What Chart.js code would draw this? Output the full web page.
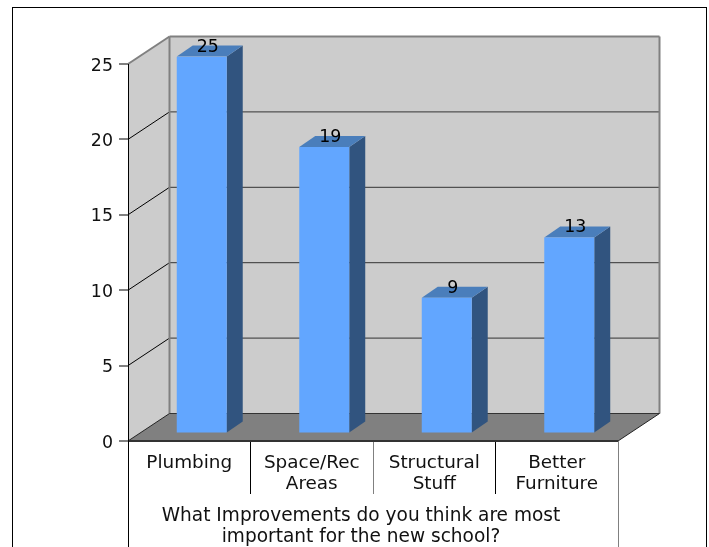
<!DOCTYPE html>
<html>
<head>
<meta charset="utf-8">
<style>
  html, body { margin: 0; padding: 0; background: #fff; overflow: hidden; }
  #wrap { width: 709px; height: 547px; position: relative; }
</style>
</head>
<body>
<div id="wrap"><canvas id="overview"></canvas></div>
<script src="https://cdn.jsdelivr.net/npm/chart.js@4/dist/chart.umd.js"></script>
<script>
const categories = ["Plumbing", ["Space/Rec", "Areas"], ["Structural", "Stuff"], ["Better", "Furniture"]];
const votes = [25, 19, 9, 13];
const axisTitle = ["What Improvements do you think are most", "important for the new school?"];
const fontName = "'DejaVu Sans', Verdana, sans-serif";
const textSize = 18.4;
const numberSize = 17.4;

// depth of the fake 3D box, and how far the bars stand out from the back
const wallX = 41.5, wallY = 27.5;
const barShiftX = 12.5, barShiftY = -7.5;
const sideX = 16, sideY = -11;

function poly(ctx, pts, fill) {
    ctx.beginPath();
    ctx.moveTo(pts[0][0], pts[0][1]);
    for (const p of pts.slice(1)) ctx.lineTo(p[0], p[1]);
    ctx.closePath();
    ctx.fillStyle = fill;
    ctx.fill();
}
function line(ctx, x1, y1, x2, y2, colour, width) {
    ctx.beginPath();
    ctx.moveTo(x1, y1);
    ctx.lineTo(x2, y2);
    ctx.strokeStyle = colour;
    ctx.lineWidth = width;
    ctx.stroke();
}

const box3d = {
    id: 'box3d',
    beforeDatasetsDraw(chart) {
        const ctx = chart.ctx, y = chart.scales.y, a = chart.chartArea;
        const l = a.left, r = a.right, t = a.top, b = a.bottom;
        ctx.save();
        // outer frame
        ctx.strokeStyle = '#000';
        ctx.lineWidth = 1;
        ctx.strokeRect(12.5, 7.5, 694, 600);
        // walls and floor
        poly(ctx, [[l, t], [l + wallX, t - wallY], [l + wallX, b - wallY], [l, b]], '#cccccc');
        poly(ctx, [[l + wallX, t - wallY], [r + wallX, t - wallY], [r + wallX, b - wallY], [l + wallX, b - wallY]], '#cccccc');
        poly(ctx, [[l, b], [l + wallX, b - wallY], [r + wallX, b - wallY], [r, b]], '#808080');
        // gridlines run along the side wall and the back wall
        for (const tick of y.ticks) {
            if (tick.value === 0 || tick.value === 25) continue;
            const py = y.getPixelForValue(tick.value);
            line(ctx, l, py, l + wallX, py - wallY, '#000', 1);
            line(ctx, l + wallX, py - wallY, r + wallX, py - wallY, '#333', 1);
        }
        line(ctx, l, t, l + wallX, t - wallY, '#808080', 2);
        line(ctx, l + wallX, t - wallY, r + wallX, t - wallY, '#808080', 2);
        line(ctx, l + wallX, t - wallY, l + wallX, b - wallY, '#808080', 2);
        line(ctx, r + wallX, t - wallY, r + wallX, b - wallY, '#808080', 2);
        line(ctx, l + wallX, b - wallY, r + wallX, b - wallY, '#333', 1);
        line(ctx, r, b, r + wallX, b - wallY, '#222', 1);
        line(ctx, l, b, l + wallX, b - wallY, '#222', 1);
        line(ctx, l, b, r, b, '#333', 2);
        line(ctx, l + 0.5, t, l + 0.5, 547, '#000', 1);
        line(ctx, r + 0.5, b, r + 0.5, 547, '#808080', 1);
        // side and top of each bar
        for (const bar of chart.getDatasetMeta(0).data) {
            const x2 = bar.x + bar.width / 2 + barShiftX, x1 = x2 - bar.width;
            const top = bar.y + barShiftY, bottom = bar.base + barShiftY;
            poly(ctx, [[x2, top], [x2 + sideX, top + sideY], [x2 + sideX, bottom + sideY], [x2, bottom]], '#31547f');
            poly(ctx, [[x1, top], [x1 + sideX, top + sideY], [x2 + sideX, top + sideY], [x2, top]], '#4a7ebb');
        }
        ctx.restore();
        ctx.save();
        ctx.translate(barShiftX, barShiftY);
    },
    afterDatasetsDraw(chart) {
        const ctx = chart.ctx;
        ctx.restore();
        ctx.save();
        ctx.fillStyle = '#000';
        ctx.font = numberSize + 'px ' + fontName;
        ctx.textAlign = 'center';
        ctx.textBaseline = 'alphabetic';
        chart.getDatasetMeta(0).data.forEach((bar, i) => {
            ctx.fillText(votes[i], bar.x + barShiftX + 6, bar.y + barShiftY - 5);
        });
        ctx.fillStyle = '#111';
        ctx.font = '18.55px ' + fontName;
        ctx.fillText(axisTitle[0], 361, 521);
        ctx.fillText(axisTitle[1], 361, 541.5);
        ctx.restore();
    }
};

new Chart(document.getElementById('overview').getContext('2d'), {
    type: 'bar',
    data: {
        labels: categories,
        datasets: [{
            data: votes,
            backgroundColor: '#62a6ff',
            borderWidth: 0,
            barPercentage: 0.408,
            categoryPercentage: 1
        }]
    },
    plugins: [box3d],
    options: {
        responsive: true,
        maintainAspectRatio: false,
        animation: false,
        layout: { padding: { top: 64, right: 91, bottom: 0, left: 0 } },
        plugins: { legend: { display: false }, tooltip: { enabled: false } },
        scales: {
            x: {
                afterFit(scale) { scale.height = 106; },
                border: { display: false },
                grid: {
                    drawOnChartArea: false,
                    tickLength: 53,
                    tickColor: ['#000', '#000', '#808080', '#000', '#808080']
                },
                ticks: {
                    color: '#111',
                    padding: -41.5,
                    maxRotation: 0,
                    autoSkip: false,
                    font: { family: fontName, size: textSize, lineHeight: 1.14 }
                }
            },
            y: {
                min: 0,
                max: 25,
                afterFit(scale) { scale.width = 128; },
                border: { display: false },
                grid: { drawOnChartArea: false, tickLength: 9, tickColor: '#808080', lineWidth: 2 },
                ticks: {
                    stepSize: 5,
                    color: '#111',
                    padding: 6,
                    labelOffset: 2,
                    font: { family: fontName, size: numberSize }
                }
            }
        }
    }
});
</script>
</body>
</html>
